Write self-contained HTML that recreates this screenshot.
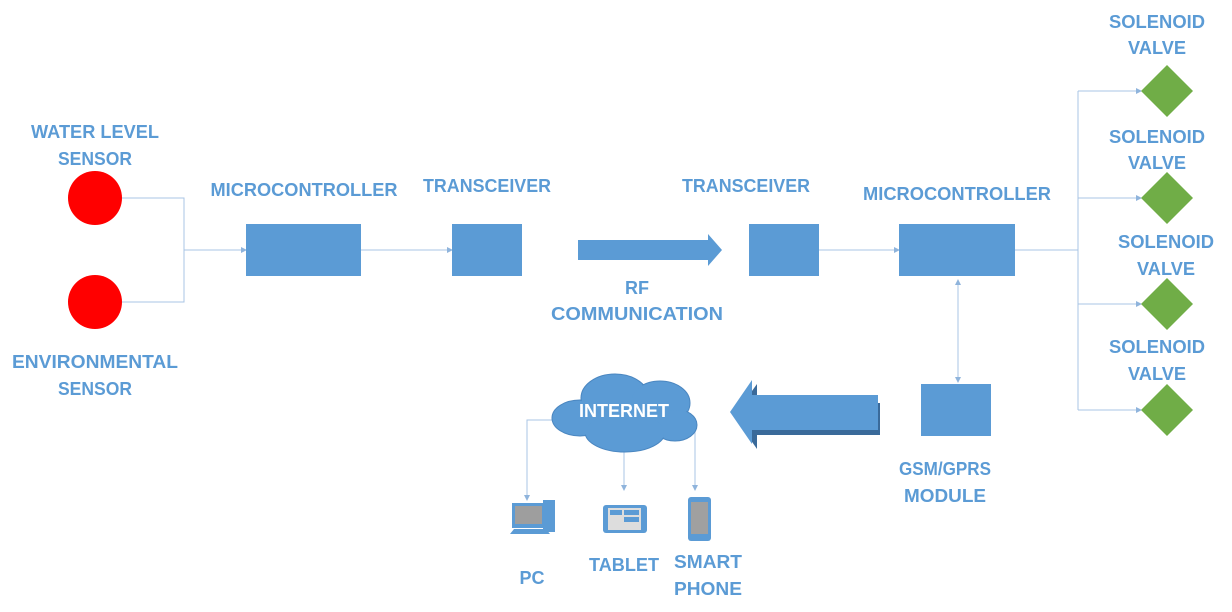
<!DOCTYPE html>
<html><head><meta charset="utf-8"><style>
html,body{margin:0;padding:0;background:#fff;}
svg{display:block;}
text{font-family:"Liberation Sans",sans-serif;font-weight:bold;font-size:18px;fill:#5b9bd5;}
</style></head><body>
<svg width="1232" height="612" viewBox="0 0 1232 612">
<defs>
<marker id="a" markerWidth="6" markerHeight="6" refX="5" refY="3" orient="auto"><path d="M0,0 L6,3 L0,6 z" fill="#8fb4dc"/></marker>
<marker id="b" markerWidth="6" markerHeight="6" refX="1" refY="3" orient="auto"><path d="M6,0 L0,3 L6,6 z" fill="#8fb4dc"/></marker>
</defs>
<g stroke="#a9c4e4" stroke-width="1" fill="none">
<path d="M122,198 H184 V302 H122"/>
<path d="M184,250 H246" marker-end="url(#a)"/>
<path d="M361,250 H452" marker-end="url(#a)"/>
<path d="M819,250 H899" marker-end="url(#a)"/>
<path d="M1015,250 H1078"/>
<path d="M1078,91 V410"/>
<path d="M1078,91 H1141" marker-end="url(#a)"/>
<path d="M1078,198 H1141" marker-end="url(#a)"/>
<path d="M1078,304 H1141" marker-end="url(#a)"/>
<path d="M1078,410 H1141" marker-end="url(#a)"/>
<path d="M958,280 V382" marker-start="url(#b)" marker-end="url(#a)"/>
<path d="M556,420 H527 V500" marker-end="url(#a)"/>
<path d="M624,440 V490" marker-end="url(#a)"/>
<path d="M695,420 V490" marker-end="url(#a)"/>
</g>
<circle cx="95" cy="198" r="27" fill="#ff0000"/>
<circle cx="95" cy="302" r="27" fill="#ff0000"/>
<rect x="246" y="224" width="115" height="52" fill="#5b9bd5"/>
<rect x="452" y="224" width="70" height="52" fill="#5b9bd5"/>
<rect x="749" y="224" width="70" height="52" fill="#5b9bd5"/>
<rect x="899" y="224" width="116" height="52" fill="#5b9bd5"/>
<rect x="921" y="384" width="70" height="52" fill="#5b9bd5"/>
<path d="M578,240 H708 V234 L722,250 L708,266 V260 H578 z" fill="#5b9bd5"/>
<path d="M878,400 H755 V381 L732,413 L755,446 V432 H878 z" fill="#3a6a9a" transform="translate(2,3)"/>
<path d="M878,395 H752 V380 L730,412 L752,444 V430 H878 z" fill="#5b9bd5"/>
<path d="M1167,65 L1193,91 L1167,117 L1141,91 z" fill="#70ad47"/>
<path d="M1167,172 L1193,198 L1167,224 L1141,198 z" fill="#70ad47"/>
<path d="M1167,278 L1193,304 L1167,330 L1141,304 z" fill="#70ad47"/>
<path d="M1167,384 L1193,410 L1167,436 L1141,410 z" fill="#70ad47"/>
<g fill="#5b9bd5" stroke="#4a86c0" stroke-width="1">
<ellipse cx="580" cy="418" rx="28" ry="18"/>
<ellipse cx="615" cy="398" rx="34" ry="24"/>
<ellipse cx="660" cy="403" rx="30" ry="22"/>
<ellipse cx="675" cy="425" rx="22" ry="16"/>
<ellipse cx="625" cy="432" rx="40" ry="20"/>
</g>
<g fill="#5b9bd5"><ellipse cx="580" cy="418" rx="27" ry="17"/><ellipse cx="615" cy="398" rx="33" ry="23"/><ellipse cx="660" cy="403" rx="29" ry="21"/><ellipse cx="675" cy="425" rx="21" ry="15"/><ellipse cx="625" cy="432" rx="39" ry="19"/></g>
<text x="624" y="417" text-anchor="middle" style="fill:#fff" textLength="90" lengthAdjust="spacingAndGlyphs">INTERNET</text>
<rect x="512" y="503" width="33" height="25" fill="#5b9bd5"/><rect x="515" y="506" width="27" height="18" fill="#9e9e9e"/>
<rect x="543" y="500" width="12" height="32" fill="#5b9bd5"/>
<path d="M510,534 L514,529 H546 L550,534 z" fill="#5b9bd5"/>
<rect x="603" y="505" width="44" height="28" rx="3" fill="#5b9bd5"/><rect x="608" y="508" width="33" height="22" fill="#ddd"/>
<rect x="610" y="510" width="12" height="5" fill="#5b9bd5"/><rect x="624" y="510" width="15" height="5" fill="#5b9bd5"/><rect x="624" y="517" width="15" height="5" fill="#5b9bd5"/>
<rect x="688" y="497" width="23" height="44" rx="3" fill="#5b9bd5"/><rect x="691" y="502" width="17" height="32" fill="#a0a0a0"/>
<g>
<text x="95" y="138" text-anchor="middle" textLength="128" lengthAdjust="spacingAndGlyphs">WATER LEVEL</text>
<text x="95" y="165" text-anchor="middle" textLength="74" lengthAdjust="spacingAndGlyphs">SENSOR</text>
<text x="95" y="368" text-anchor="middle" textLength="166" lengthAdjust="spacingAndGlyphs">ENVIRONMENTAL</text>
<text x="95" y="395" text-anchor="middle" textLength="74" lengthAdjust="spacingAndGlyphs">SENSOR</text>
<text x="304" y="196" text-anchor="middle" textLength="187" lengthAdjust="spacingAndGlyphs">MICROCONTROLLER</text>
<text x="487" y="192" text-anchor="middle" textLength="128" lengthAdjust="spacingAndGlyphs">TRANSCEIVER</text>
<text x="746" y="192" text-anchor="middle" textLength="128" lengthAdjust="spacingAndGlyphs">TRANSCEIVER</text>
<text x="957" y="200" text-anchor="middle" textLength="188" lengthAdjust="spacingAndGlyphs">MICROCONTROLLER</text>
<text x="637" y="294" text-anchor="middle">RF</text>
<text x="637" y="320" text-anchor="middle" textLength="172" lengthAdjust="spacingAndGlyphs">COMMUNICATION</text>
<text x="945" y="475" text-anchor="middle" textLength="92" lengthAdjust="spacingAndGlyphs">GSM/GPRS</text>
<text x="945" y="502" text-anchor="middle" textLength="82" lengthAdjust="spacingAndGlyphs">MODULE</text>
<text x="532" y="584" text-anchor="middle">PC</text>
<text x="624" y="571" text-anchor="middle" textLength="70" lengthAdjust="spacingAndGlyphs">TABLET</text>
<text x="708" y="568" text-anchor="middle" textLength="68" lengthAdjust="spacingAndGlyphs">SMART</text>
<text x="708" y="595" text-anchor="middle" textLength="68" lengthAdjust="spacingAndGlyphs">PHONE</text>
<text x="1157" y="28" text-anchor="middle" textLength="96" lengthAdjust="spacingAndGlyphs">SOLENOID</text>
<text x="1157" y="54" text-anchor="middle" textLength="58" lengthAdjust="spacingAndGlyphs">VALVE</text>
<text x="1157" y="143" text-anchor="middle" textLength="96" lengthAdjust="spacingAndGlyphs">SOLENOID</text>
<text x="1157" y="169" text-anchor="middle" textLength="58" lengthAdjust="spacingAndGlyphs">VALVE</text>
<text x="1166" y="248" text-anchor="middle" textLength="96" lengthAdjust="spacingAndGlyphs">SOLENOID</text>
<text x="1166" y="275" text-anchor="middle" textLength="58" lengthAdjust="spacingAndGlyphs">VALVE</text>
<text x="1157" y="353" text-anchor="middle" textLength="96" lengthAdjust="spacingAndGlyphs">SOLENOID</text>
<text x="1157" y="380" text-anchor="middle" textLength="58" lengthAdjust="spacingAndGlyphs">VALVE</text>
</g>
</svg>
</body></html>
